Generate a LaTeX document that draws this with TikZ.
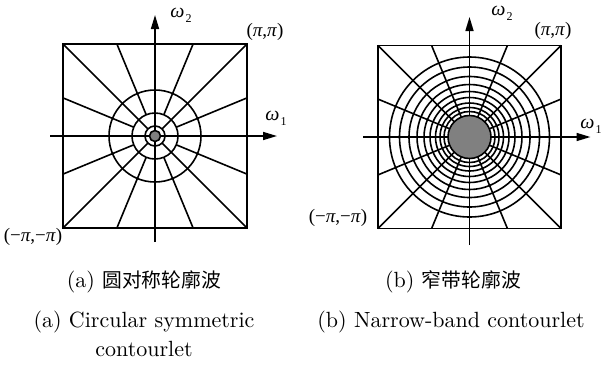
\documentclass[tikz,border=0pt]{standalone}
\usepackage{fontspec}
\newfontfamily\cjk{Noto Sans CJK SC}
\newfontfamily\tms{Liberation Serif}
\usetikzlibrary{arrows.meta}
\newcommand{\omlab}[1]{{\tms\fontsize{20}{20}\selectfont\textit{ω}\kern1pt\raisebox{-5pt}{\fontsize{12}{12}\selectfont #1}}}
\newcommand{\pilab}[1]{{\tms\fontsize{19}{19}\selectfont #1}}
\newcommand{\captxt}[1]{\scalebox{2.2}{#1}}
\begin{document}
\begin{tikzpicture}[x=1pt,y=-1pt,line width=1.6pt,
  axis/.style={-{Triangle[length=14pt,width=8pt]}},
  lab/.style={inner sep=0pt,anchor=center},
  capt/.style={inner sep=0pt,anchor=base}]
\useasboundingbox (0,0) rectangle (602,365);
% ---------- left panel ----------
\begin{scope}[shift={(155,136)}]
  \draw (-92,-92) rectangle (92,92);
  \foreach \r in {10,23,46} \draw (0,0) circle (\r);
  \foreach \a in {45,135,225,315} \draw (\a:10) -- (\a:130.1);
  \foreach \a in {22.5,67.5,112.5,157.5,202.5,247.5,292.5,337.5} \draw (\a:23) -- (\a:99.6);
  \coordinate (la1) at (-105,0); \coordinate (la2) at (122,0);
  \coordinate (lb1) at (0,106); \coordinate (lb2) at (0,-121);
  \draw[axis] (la1) -- (la2);
  \draw[axis] (lb1) -- (lb2);
  \filldraw[fill=gray] (0,0) circle (5.5);
\end{scope}
\node[lab] (lw2) at (181,15) {\omlab{2}};
\node[lab] (lw1) at (276,118) {\omlab{1}};
\node[lab] (lpp) at (265,32) {\pilab{(\textit{π},\textit{π})}};
\node[lab] (lmm) at (33,237) {\pilab{(−\textit{π},−\textit{π})}};
% ---------- right panel ----------
\begin{scope}[shift={(469.5,137)}]
  \draw (-91.5,-91.5) rectangle (91.5,91.5);
  \foreach \r in {25.5,29.5,34,39.5,45.5,52.5,60.5,70,80} \draw (0,0) circle (\r);
  \foreach \a in {45,135,225,315} \draw (\a:22) -- (\a:129.4);
  \foreach \a in {22.5,67.5,112.5,157.5,202.5,247.5,292.5,337.5} \draw (\a:22) -- (\a:99.0);
  \coordinate (ra1) at (-106.5,0); \coordinate (ra2) at (121,0);
  \coordinate (rb1) at (0,108); \coordinate (rb2) at (0,-120);
  \draw[axis] (ra1) -- (ra2);
  \draw[axis] (rb1) -- (rb2);
  \filldraw[fill=gray] (0,0) circle (21.5);
\end{scope}
\node[lab] (rw2) at (502,13) {\omlab{2}};
\node[lab] (rw1) at (591,126) {\omlab{1}};
\node[lab] (rpp) at (553,31) {\pilab{(\textit{π},\textit{π})}};
\node[lab] (rmm) at (338,218) {\pilab{(−\textit{π},−\textit{π})}};
% ---------- captions ----------
\node[capt] (ca1) at (144,287) {\captxt{(a) {\cjk\fontsize{9}{10}\selectfont 圆对称轮廓波}}};
\node[capt] (cb1) at (453,287) {\captxt{(b) {\cjk\fontsize{9}{10}\selectfont 窄带轮廓波}}};
\node[capt] (ca2) at (144,327.5) {\captxt{(a) Circular symmetric}};
\node[capt] (ca3) at (144,356) {\captxt{contourlet}};
\node[capt] (cb2) at (451,327.5) {\captxt{(b) Narrow-band contourlet}};
\end{tikzpicture}
\end{document}
